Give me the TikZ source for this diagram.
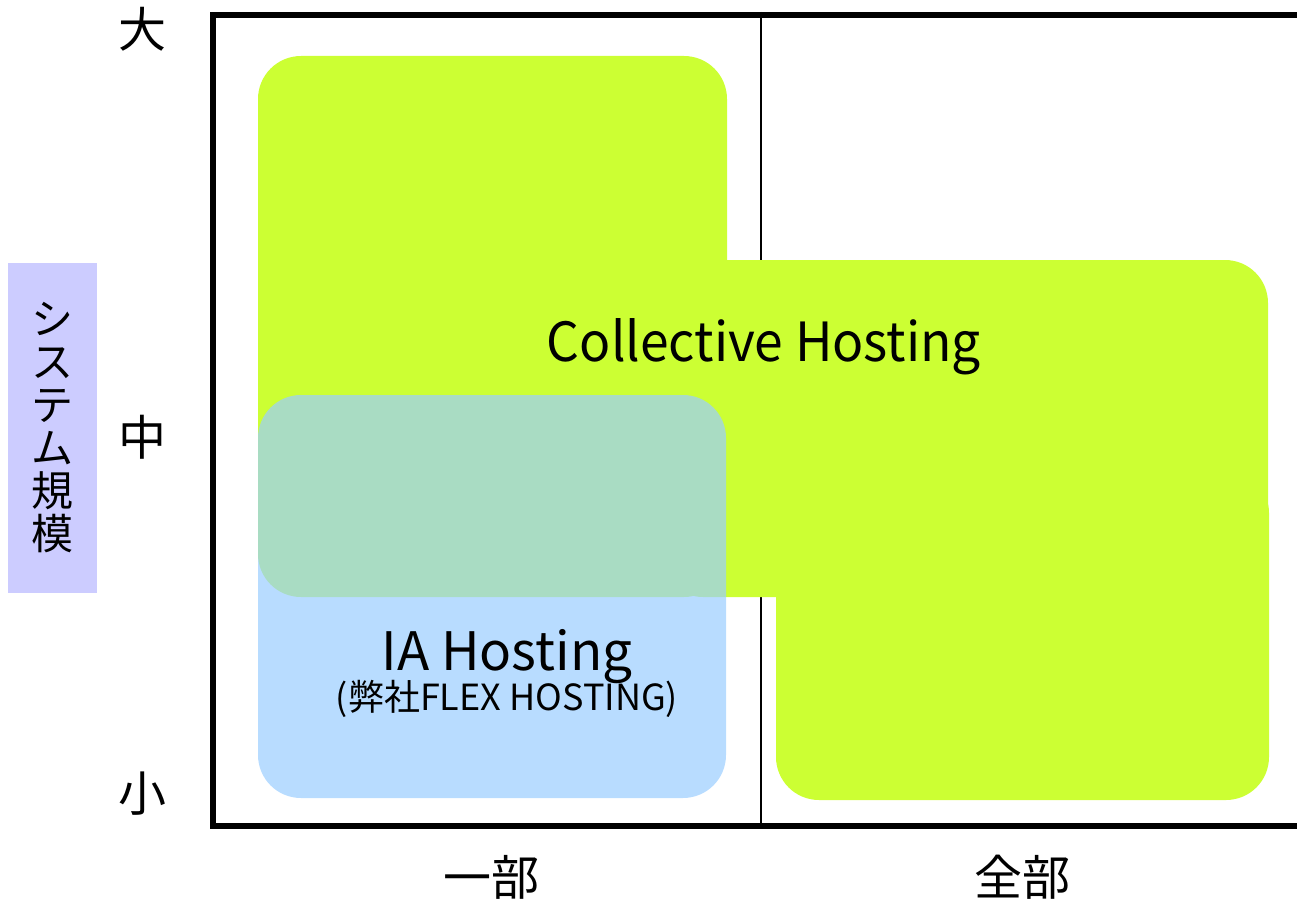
\documentclass[tikz,border=0pt]{standalone}
\usepackage{fontspec}
\setmainfont{Noto Sans CJK JP}
\newfontfamily\narrowfont[FakeStretch=0.955]{Noto Sans CJK JP}
\definecolor{limegreen}{RGB}{204,255,51}
\definecolor{skyblue}{RGB}{155,206,255}
\definecolor{lavender}{RGB}{204,204,255}
\begin{document}
\begin{tikzpicture}[x=1pt,y=-1pt,
  greenbox/.style={fill=limegreen, rounded corners=43pt},
  bluebox/.style={fill=skyblue, fill opacity=0.71, rounded corners=43pt},
  axis/.style={line width=6pt, line join=miter},
  divider/.style={line width=2pt},
  ticklabel/.style={inner sep=0pt, font=\fontsize{48}{48}\selectfont},
  sublabel/.style={inner sep=0pt, font=\fontsize{36}{36}\selectfont}]
\useasboundingbox (0,0) rectangle (1297,899);
% divider
\draw[divider] (761,12) -- (761,826);
% collective hosting area
\fill[greenbox] (258,56) rectangle (727,597);
\fill[greenbox] (660,260) rectangle (1268,597);
\fill[greenbox] (776,470) rectangle (1269,800);
% IA hosting area
\fill[bluebox] (258,395) rectangle (726,798);
% axes
\draw[axis] (1297,15) -- (213,15) -- (213,826) -- (1297,826);
% y axis title
\fill[lavender] (8,263) rectangle (97,593);
\node[inner sep=0pt, align=center, font=\fontsize{42}{43}\selectfont] (ytitle) at (52,428) {シ\\ス\\テ\\ム\\規\\模};
% tick labels
\node[ticklabel] (big) at (142,29) {大};
\node[ticklabel] (mid) at (142,437) {中};
\node[ticklabel] (small) at (142,794) {小};
\node[ticklabel] (part) at (491,877) {一部};
\node[ticklabel] (all) at (1022,877) {全部};
% area labels
\node[inner sep=0pt, font=\narrowfont\fontsize{54}{54}\selectfont] (coll) at (764,347) {Collective Hosting};
\node[inner sep=0pt, font=\fontsize{53}{53}\selectfont] (ia) at (507,657) {IA Hosting};
\node[sublabel] (flex) at (507,699) {(弊社FLEX HOSTING)};
\end{tikzpicture}
\end{document}
